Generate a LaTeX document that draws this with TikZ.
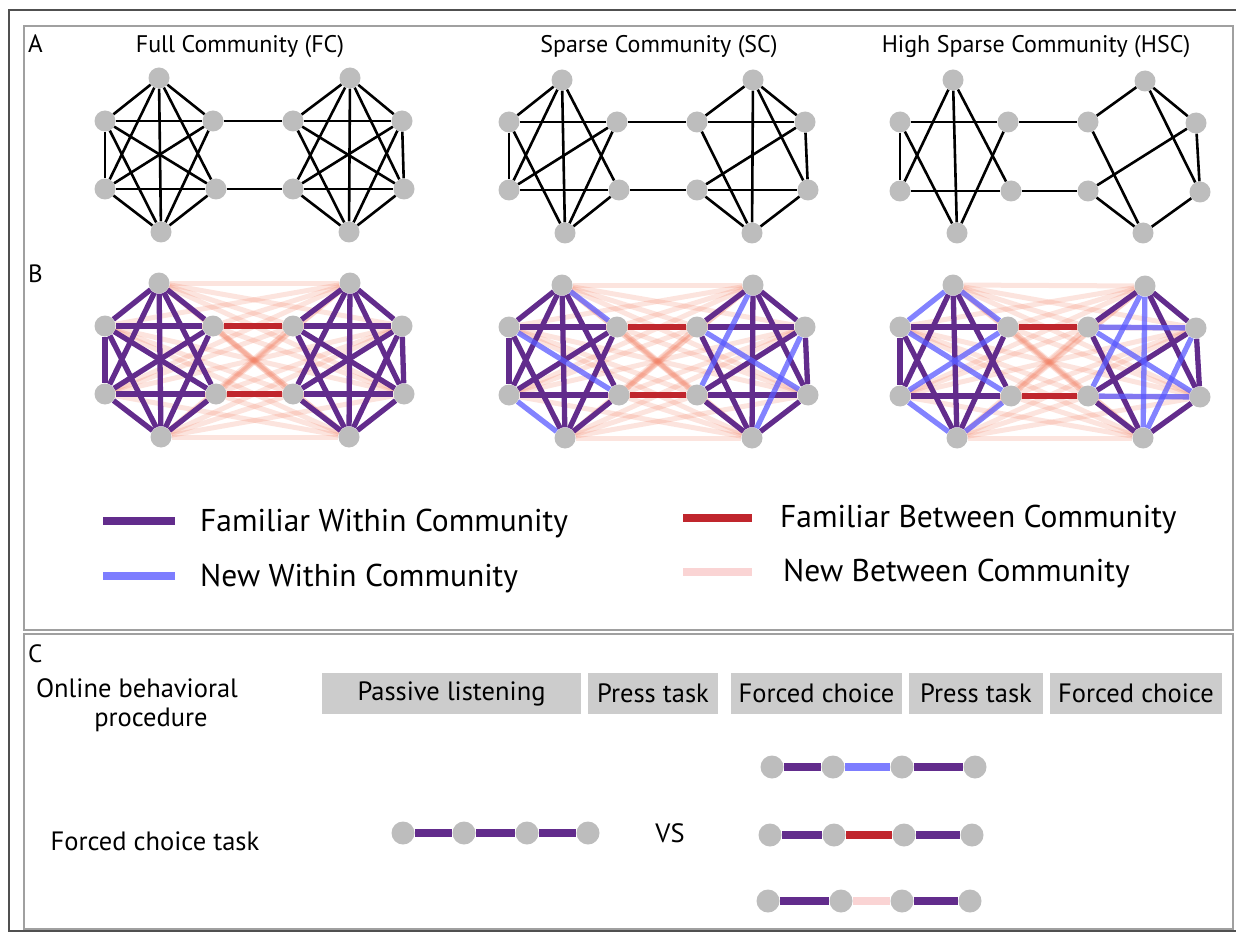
\documentclass[tikz,border=0pt]{standalone}
\usepackage{fontspec}
\setmainfont{PT Sans}
\pgfdeclarelayer{pinklayer}
\pgfdeclarelayer{edgelayer}
\pgfsetlayers{pinklayer,edgelayer,main}
\definecolor{nodegray}{RGB}{189,189,189}
\definecolor{famcol}{RGB}{98,44,140}
\definecolor{newcol}{RGB}{90,90,255}
\definecolor{legblue}{RGB}{125,125,255}
\definecolor{redcol}{RGB}{192,38,45}
\definecolor{salmon}{RGB}{240,120,90}
\definecolor{legpink}{RGB}{250,212,212}
\definecolor{boxgray}{RGB}{204,204,204}
\definecolor{framegray}{RGB}{160,160,160}
\definecolor{outergray}{RGB}{80,80,80}
\newcommand\clusternodes[7]{%
  \node[vtx] (#1t) at (#2) {};
  \node[vtx] (#1ul) at (#3) {};
  \node[vtx] (#1ur) at (#4) {};
  \node[vtx] (#1ll) at (#5) {};
  \node[vtx] (#1lr) at (#6) {};
  \node[vtx] (#1b) at (#7) {};}
\newcommand\drawedges[3]{\foreach \u/\v in {#3} {\draw[#2] (#1\u) -- (#1\v);}}
\newcommand\allpink[2]{\foreach \u in {t,ul,ur,ll,lr,b} {\foreach \v in {t,ul,ur,ll,lr,b} {\draw[newb] (#1\u) -- (#2\v);}}}
\newcommand\titlefont{\fontsize{24}{28}\selectfont}
\newcommand\letterfont{\fontsize{25}{30}\selectfont}
\newcommand\legfont{\fontsize{31.5}{38}\selectfont}
\newcommand\cfont{\fontsize{26.5}{31}\selectfont}
\begin{document}
\begin{tikzpicture}[x=1pt,y=-1pt,
  vtx/.style={circle,fill=nodegray,minimum size=21pt,inner sep=0pt},
  cvtx/.style={circle,fill=nodegray,minimum size=23pt,inner sep=0pt},
  aedge/.style={line width=2.6pt,black},
  fam/.style={line width=5.3pt,famcol},
  newin/.style={line width=5.3pt,newcol,opacity=0.75},
  famb/.style={line width=5.3pt,redcol},
  newb/.style={line width=5pt,salmon,opacity=0.2},
  legline/.style={line width=8pt},
  stagebox/.style={fill=boxgray,minimum height=41pt,inner sep=0pt,font=\cfont},
  lab/.style={font=\titlefont,inner sep=0pt,anchor=base}]
\useasboundingbox (0,0) rectangle (1236,941);
% frames
\draw[outergray,line width=1.4pt] (1240,10) -- (9,10) -- (9,931) -- (1240,931);
\draw[framegray,line width=1.4pt] (24,26) rectangle (1233,630);
\draw[framegray,line width=1.4pt] (24,634) rectangle (1233,929);
% labels
\node[font=\letterfont,inner sep=0pt,anchor=base west] (labA) at (28,53) {A};
\node[font=\letterfont,inner sep=0pt,anchor=base west] (labB) at (28,282) {B};
\node[lab] (tFC) at (240,53) {Full Community (FC)};
\node[lab] (tSC) at (659,53) {Sparse Community (SC)};
\node[lab] (tHSC) at (1036,53) {High Sparse Community (HSC)};
% ---------- Panel A ----------
\clusternodes{afl}{159,78}{105,121}{213,121}{105,189}{216,189}{161,232}
\clusternodes{afr}{350,78}{293,121}{402,121}{293,189}{404,189}{349,232}
\clusternodes{asl}{562,80}{509,122}{617,122}{509,190}{619,190}{565,233}
\clusternodes{asr}{753,80}{697,122}{805,122}{697,190}{808,190}{752,233}
\clusternodes{ahl}{953,80}{900,122}{1008,122}{900,191}{1011,191}{957,233}
\clusternodes{ahr}{1145,81}{1088,122}{1196,123}{1088,191}{1200,192}{1143,233}
\begin{pgfonlayer}{edgelayer}
\drawedges{afl}{aedge}{t/ul,t/ur,t/ll,t/lr,t/b,ul/ur,ul/ll,ul/lr,ul/b,ur/ll,ur/b,ll/lr,ll/b,lr/b}
\drawedges{afr}{aedge}{t/ul,t/ur,t/ll,t/lr,t/b,ul/ur,ul/lr,ul/b,ur/ll,ur/lr,ur/b,ll/lr,ll/b,lr/b}
\draw[aedge] (aflur) -- (afrul); \draw[aedge] (afllr) -- (afrll);
\drawedges{asl}{aedge}{t/ul,t/ll,t/b,t/lr,ul/ur,ul/ll,ul/b,ll/ur,ll/lr,ur/b,lr/b}
\drawedges{asr}{aedge}{t/ul,t/ur,t/b,t/lr,ul/ur,ul/b,ur/ll,ur/lr,ll/lr,ll/b,lr/b}
\draw[aedge] (aslur) -- (asrul); \draw[aedge] (asllr) -- (asrll);
\drawedges{ahl}{aedge}{t/ll,t/b,t/lr,ul/ur,ul/ll,ul/b,ur/b,ll/lr}
\drawedges{ahr}{aedge}{t/ul,t/ur,t/lr,ur/ll,ur/lr,ul/b,ll/b,lr/b}
\draw[aedge] (ahlur) -- (ahrul); \draw[aedge] (ahllr) -- (ahrll);
\end{pgfonlayer}
% ---------- Panel B ----------
\begin{scope}[shift={(0,205)}]
\clusternodes{bfl}{159,78}{105,121}{213,121}{105,189}{216,189}{161,232}
\clusternodes{bfr}{350,78}{293,121}{402,121}{293,189}{404,189}{349,232}
\clusternodes{bsl}{562,80}{509,122}{617,122}{509,190}{619,190}{565,233}
\clusternodes{bsr}{753,80}{697,122}{805,122}{697,190}{808,190}{752,233}
\clusternodes{bhl}{953,80}{900,122}{1008,122}{900,191}{1011,191}{957,233}
\clusternodes{bhr}{1145,81}{1088,122}{1196,123}{1088,191}{1200,192}{1143,233}
\end{scope}
\begin{pgfonlayer}{pinklayer}
\allpink{bfl}{bfr}
\allpink{bsl}{bsr}
\allpink{bhl}{bhr}
\end{pgfonlayer}
\begin{pgfonlayer}{edgelayer}
\drawedges{bfl}{fam}{t/ul,t/ur,t/ll,t/lr,t/b,ul/ur,ul/ll,ul/lr,ul/b,ur/ll,ur/b,ll/lr,ll/b,lr/b}
\drawedges{bfr}{fam}{t/ul,t/ur,t/ll,t/lr,t/b,ul/ur,ul/lr,ul/b,ur/ll,ur/lr,ur/b,ll/lr,ll/b,lr/b}
\draw[famb] (bflur) -- (bfrul); \draw[famb] (bfllr) -- (bfrll);
\drawedges{bsl}{fam}{t/ul,t/ll,t/b,t/lr,ul/ur,ul/ll,ul/b,ll/ur,ll/lr,ur/b,lr/b}
\drawedges{bsl}{newin}{t/ur,ul/lr,ll/b}
\drawedges{bsr}{fam}{t/ul,t/ur,t/b,t/lr,ul/ur,ul/b,ur/ll,ur/lr,ll/lr,ll/b,lr/b}
\drawedges{bsr}{newin}{t/ll,ul/lr,ur/b}
\draw[famb] (bslur) -- (bsrul); \draw[famb] (bsllr) -- (bsrll);
\drawedges{bhl}{fam}{t/ll,t/b,t/lr,ul/ur,ul/ll,ul/b,ur/b,ll/lr}
\drawedges{bhl}{newin}{t/ul,t/ur,ul/lr,ll/ur,ll/b,lr/b}
\drawedges{bhr}{fam}{t/ul,t/ur,t/lr,ur/ll,ur/lr,ul/b,ll/b,lr/b}
\drawedges{bhr}{newin}{t/b,t/ll,ul/ur,ul/lr,ur/b,ll/lr}
\draw[famb] (bhlur) -- (bhrul); \draw[famb] (bhllr) -- (bhrll);
\end{pgfonlayer}
% ---------- Legend ----------
\coordinate (l1a) at (103,521); \coordinate (l1b) at (175,521);
\coordinate (l2a) at (103,576); \coordinate (l2b) at (175,576);
\coordinate (l3a) at (683,518); \coordinate (l3b) at (752,518);
\coordinate (l4a) at (683,572); \coordinate (l4b) at (752,572);
\draw[legline,famcol] (l1a) -- (l1b);
\draw[legline,legblue] (l2a) -- (l2b);
\draw[legline,redcol] (l3a) -- (l3b);
\draw[legline,legpink] (l4a) -- (l4b);
\node[font=\legfont,inner sep=0pt,anchor=base west] (leg1) at (200,531) {Familiar Within Community};
\node[font=\legfont,inner sep=0pt,anchor=base west] (leg2) at (200,586) {New Within Community};
\node[font=\legfont,inner sep=0pt,anchor=base west] (leg3) at (780,527) {Familiar Between Community};
\node[font=\legfont,inner sep=0pt,anchor=base west] (leg4) at (783,581) {New Between Community};
% ---------- Panel C ----------
\node[font=\letterfont,inner sep=0pt,anchor=base west] (labC) at (28,662) {C};
\node[font=\cfont,inner sep=0pt,anchor=base] (obp1) at (137,697) {Online behavioral};
\node[font=\cfont,inner sep=0pt,anchor=base] (obp2) at (151,726) {procedure};
\node[stagebox,minimum width=259pt] (s1) at (451.5,693.5) {Passive listening};
\node[stagebox,minimum width=130pt] (s2) at (653,693.5) {Press task};
\node[stagebox,minimum width=171pt] (s3) at (816.5,693.5) {Forced choice};
\node[stagebox,minimum width=134pt] (s4) at (976,693.5) {Press task};
\node[stagebox,minimum width=172pt] (s5) at (1136,693.5) {Forced choice};
\node[font=\cfont,inner sep=0pt,anchor=base] (fct) at (155,850) {Forced choice task};
\node[font=\cfont,inner sep=0pt,anchor=base] (vs) at (670,842) {VS};
% sequences
\node[cvtx] (c0a) at (403,833) {}; \node[cvtx] (c0b) at (464,833) {};
\node[cvtx] (c0c) at (527,833) {}; \node[cvtx] (c0d) at (588,833) {};
\node[cvtx] (c1a) at (772,767) {}; \node[cvtx] (c1b) at (833,767) {};
\node[cvtx] (c1c) at (902,767) {}; \node[cvtx] (c1d) at (975,767) {};
\node[cvtx] (c2a) at (770,835) {}; \node[cvtx] (c2b) at (834,835) {};
\node[cvtx] (c2c) at (904,835) {}; \node[cvtx] (c2d) at (972,835) {};
\node[cvtx] (c3a) at (768,901) {}; \node[cvtx] (c3b) at (841,901) {};
\node[cvtx] (c3c) at (902,901) {}; \node[cvtx] (c3d) at (970,901) {};
\begin{pgfonlayer}{edgelayer}
\draw[legline,famcol] (c0a) -- (c0b); \draw[legline,famcol] (c0b) -- (c0c); \draw[legline,famcol] (c0c) -- (c0d);
\draw[legline,famcol] (c1a) -- (c1b); \draw[legline,legblue] (c1b) -- (c1c); \draw[legline,famcol] (c1c) -- (c1d);
\draw[legline,famcol] (c2a) -- (c2b); \draw[legline,redcol] (c2b) -- (c2c); \draw[legline,famcol] (c2c) -- (c2d);
\draw[legline,famcol] (c3a) -- (c3b); \draw[legline,legpink] (c3b) -- (c3c); \draw[legline,famcol] (c3c) -- (c3d);
\end{pgfonlayer}
\end{tikzpicture}
\end{document}
